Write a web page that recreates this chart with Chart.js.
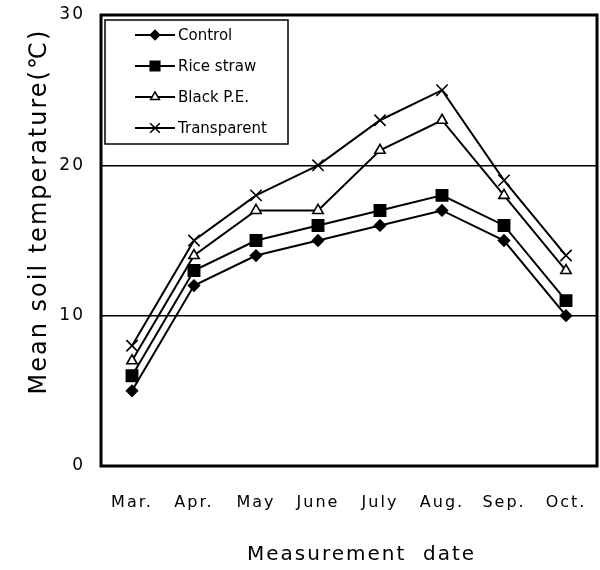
<!DOCTYPE html>
<html>
<head>
<meta charset="utf-8">
<script src="https://cdn.jsdelivr.net/npm/chart.js@4/dist/chart.umd.min.js"></script>
<style>
  html, body { margin: 0; padding: 0; background: #fff; }
  #grafico { display: block; }
</style>
</head>
<body>
<canvas id="grafico" width="600" height="570"></canvas>
<script>
// datos
const meses = ["Mar.", "Apr.", "May", "June", "July", "Aug.", "Sep.", "Oct."];
const control = [5, 12, 14, 15, 16, 17, 15, 10];
const pajaArroz = [6, 13, 15, 16, 17, 18, 16, 11];
const peNegro = [7, 14, 17, 17, 21, 23, 18, 13];
const transparente = [8, 15, 18, 20, 23, 25, 19, 14];
const ticksY = [0, 10, 20, 30];
const nombres = ["Control", "Rice straw", "Black P.E.", "Transparent"];

const fuente = '"DejaVu Sans", sans-serif';

function serie(nombre, datos, estilo, radio, relleno) {
  return {
    label: nombre,
    data: datos,
    borderColor: "#000",
    borderWidth: 2,
    tension: 0,
    pointStyle: estilo,
    pointRadius: radio,
    pointBackgroundColor: relleno,
    pointBorderColor: "#000",
    pointBorderWidth: 1.6
  };
}

// espaciado de letras como en la figura original
const espaciado = {
  id: "espaciado",
  beforeDraw(chart) {
    chart.ctx.letterSpacing = "2px";
  }
};

// marco grueso del area de la grafica
const marco = {
  id: "marco",
  beforeDatasetsDraw(chart) {
    const { ctx, chartArea } = chart;
    ctx.save();
    ctx.lineWidth = 3;
    ctx.strokeStyle = "#000";
    ctx.strokeRect(chartArea.left, chartArea.top, chartArea.right - chartArea.left, chartArea.bottom - chartArea.top);
    ctx.restore();
  }
};

// leyenda dentro del area, con linea + marcador
const leyenda = {
  id: "leyenda",
  afterDraw(chart) {
    const { ctx, chartArea } = chart;
    const x0 = chartArea.left + 4;
    const y0 = chartArea.top + 5;
    ctx.save();
    ctx.letterSpacing = "0px";
    ctx.fillStyle = "#fff";
    ctx.fillRect(x0, y0, 183, 124);
    ctx.lineWidth = 1.5;
    ctx.strokeStyle = "#000";
    ctx.strokeRect(x0, y0, 183, 124);
    chart.data.datasets.forEach((ds, i) => {
      const y = y0 + 15 + i * 31;
      ctx.beginPath();
      ctx.moveTo(x0 + 30, y);
      ctx.lineTo(x0 + 70, y);
      ctx.lineWidth = 2;
      ctx.strokeStyle = "#000";
      ctx.stroke();
      ctx.fillStyle = ds.pointBackgroundColor;
      ctx.lineWidth = 1.5;
      Chart.helpers.drawPoint(ctx, { pointStyle: ds.pointStyle, radius: ds.pointRadius * 0.85, borderWidth: 1.5, rotation: 0 }, x0 + 50, y);
      ctx.fillStyle = "#000";
      ctx.font = "15px " + fuente;
      ctx.textBaseline = "middle";
      ctx.textAlign = "left";
      ctx.fillText(ds.label, x0 + 73, y + 1);
    });
    ctx.restore();
  }
};

const grafica = document.getElementById("grafico").getContext("2d");

new Chart(grafica, {
  type: "line",
  data: {
    labels: meses,
    datasets: [
      serie(nombres[0], control, "rectRot", 5.5, "#000"),
      serie(nombres[1], pajaArroz, "rect", 8, "#000"),
      serie(nombres[2], peNegro, "triangle", 6, "#fff"),
      serie(nombres[3], transparente, "crossRot", 8, "#000")
    ]
  },
  options: {
    responsive: false,
    animation: false,
    devicePixelRatio: 1,
    layout: { autoPadding: false, padding: { top: 15, right: 3, bottom: 0, left: 0 } },
    plugins: {
      legend: { display: false },
      tooltip: { enabled: false }
    },
    scales: {
      x: {
        offset: true,
        grid: { display: false },
        border: { display: false },
        ticks: {
          color: "#000",
          font: { family: fuente, size: 16 },
          padding: 19,
          autoSkip: false,
          maxRotation: 0
        },
        title: {
          display: true,
          text: "   Measurement  date",
          color: "#000",
          font: { family: fuente, size: 20 },
          padding: { top: 0, bottom: 3 }
        },
        afterFit(scale) {
          scale.height = 104;
          scale.paddingLeft = 0;
          scale.paddingRight = 0;
        }
      },
      y: {
        min: 0,
        max: 30,
        afterBuildTicks(scale) { scale.ticks = ticksY.map(v => ({ value: v })); },
        grid: {
          drawTicks: false,
          lineWidth: c => (c.tick && (c.tick.value === 10 || c.tick.value === 20)) ? 1.5 : 0,
          color: c => (c.tick && (c.tick.value === 10 || c.tick.value === 20)) ? "#000" : "rgba(0,0,0,0)"
        },
        border: { display: false },
        ticks: {
          color: "#000",
          font: { family: fuente, size: 17 },
          padding: 16
        },
        title: {
          display: true,
          text: "      Mean soil temperature(℃)",
          color: "#000",
          font: { family: fuente, size: 24 },
          padding: { top: 25, bottom: 0 }
        },
        afterFit(scale) {
          scale.width = 101;
          scale.paddingTop = 0;
          scale.paddingBottom = 0;
        }
      }
    }
  },
  plugins: [espaciado, marco, leyenda]
});
</script>
</body>
</html>
